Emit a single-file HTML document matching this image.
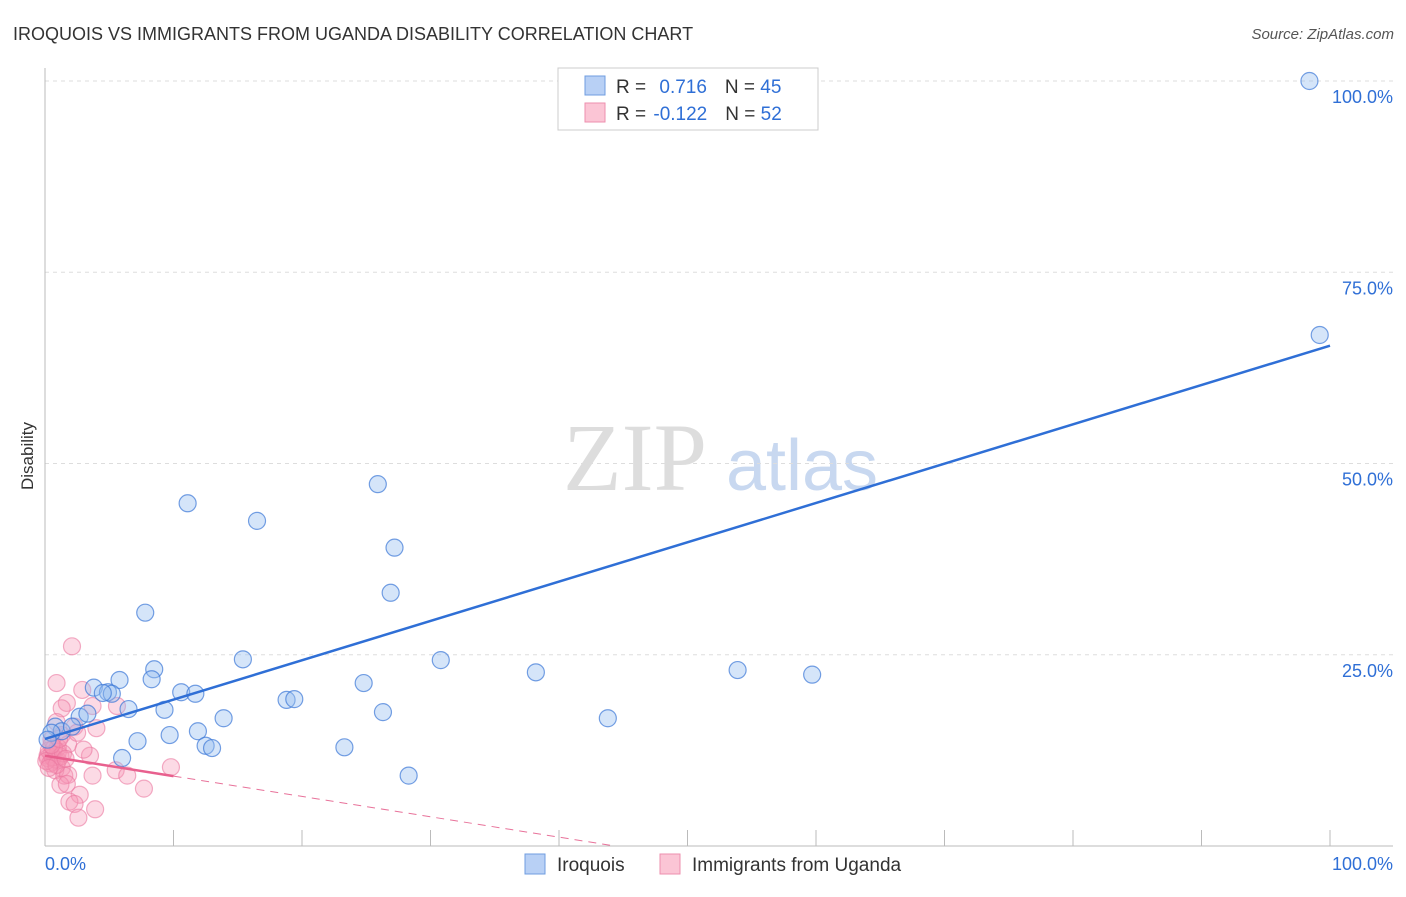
<!DOCTYPE html>
<html><head><meta charset="utf-8"><style>
body{margin:0;background:#fff;font-family:"Liberation Sans",sans-serif}
</style></head><body>
<svg id="chart" width="1406" height="892" xmlns="http://www.w3.org/2000/svg" font-family="Liberation Sans, sans-serif">
<text x="13" y="40" font-size="18" fill="#333">IROQUOIS VS IMMIGRANTS FROM UGANDA DISABILITY CORRELATION CHART</text>
<text x="1394" y="39" font-size="15" fill="#555" text-anchor="end" font-style="italic">Source: ZipAtlas.com</text>
<text transform="translate(33,456) rotate(-90)" font-size="17" fill="#333" text-anchor="middle">Disability</text>
<g>
<text x="635" y="490" font-size="96" fill="#ddd" font-family="Liberation Serif, serif" text-anchor="middle">ZIP</text>
<text x="802" y="490" font-size="72" fill="#c8d8f0" text-anchor="middle">atlas</text>
</g>
<g id="grid"></g><g id="axes"></g><g id="pts"></g><g id="lines"></g>
<g>
<rect x="558" y="68" width="260" height="62" fill="#fff" stroke="#ccc"/>
<rect x="585" y="76" width="20" height="19" fill="#b8d0f5" stroke="#6f9de0"/>
<rect x="585" y="103" width="20" height="19" fill="#fbc5d5" stroke="#ee8fae"/>
<text x="616" y="93" font-size="19" fill="#333">R = <tspan fill="#2f6fd6" dx="8">0.716</tspan><tspan dx="18" fill="#333">N = </tspan><tspan fill="#2f6fd6">45</tspan></text>
<text x="616" y="120" font-size="19" fill="#333">R = <tspan fill="#2f6fd6" dx="2">-0.122</tspan><tspan dx="18" fill="#333">N = </tspan><tspan fill="#2f6fd6">52</tspan></text>
</g>
<g>
<rect x="525" y="854" width="20" height="20" fill="#b8d0f5" stroke="#6f9de0"/>
<text x="557" y="871" font-size="19" fill="#333">Iroquois</text>
<rect x="660" y="854" width="20" height="20" fill="#fbc5d5" stroke="#ee8fae"/>
<text x="692" y="871" font-size="19" fill="#333">Immigrants from Uganda</text>
</g>
</svg>
<script>
const blueX=[98.4,99.2,11.1,16.5,25.9,27.2,26.9,7.8,8.5,8.3,15.4,5.8,3.8,4.9,5.2,10.6,11.7,6.5,9.3,13.9,18.8,19.4,24.8,26.3,30.8,38.2,43.8,53.9,59.7,11.9,9.7,12.5,13.0,7.2,6.0,23.3,28.3,2.7,3.3,0.8,1.3,2.1,0.5,4.5,0.2];
const blueY=[100,66.8,44.8,42.5,47.3,39.0,33.1,30.5,23.1,21.8,24.4,21.7,20.7,20.1,19.9,20.1,19.9,17.9,17.8,16.7,19.1,19.2,21.3,17.5,24.3,22.7,16.7,23.0,22.4,15.0,14.5,13.1,12.8,13.7,11.5,12.9,9.2,16.9,17.3,15.6,15.0,15.6,14.8,20.0,13.9];
const pinkX=[2.1,0.9,2.9,1.7,1.3,3.7,5.6,0.9,2.3,1.3,0.5,1.0,1.8,3.5,0.2,0.5,1.0,1.3,0.8,1.5,1.8,3.7,5.5,6.4,9.8,1.2,1.7,2.7,7.7,1.9,2.3,2.6,3.9,0.2,0.5,0.8,0.4,1.0,0.6,0.3,1.2,0.1,0.7,1.4,0.9,0.5,1.6,0.3,2.5,4.0,1.1,3.0];
const pinkY=[26.1,21.3,20.4,18.7,18.0,18.3,18.3,16.2,15.6,14.5,13.9,12.9,13.3,11.8,11.8,11.0,11.2,10.2,9.9,9.2,9.3,9.2,9.9,9.2,10.3,8.0,8.1,6.7,7.5,5.8,5.5,3.7,4.8,11.5,12.0,11.3,10.8,12.3,11.6,12.5,11.7,11.1,12.8,12.1,10.6,13.2,11.4,10.2,14.8,15.4,14.0,12.6];
const blueTrend=[14.0,65.4]; // y at x=0, x=100
const pinkTrend=[11.8,-0.266]; // intercept, slope
const pinkSolidEnd=10;
const xTicks=[0,10,20,30,40,50,60,70,80,90,100];
const yTicks=[25,50,75,100];
const yTickLabels=["25.0%","50.0%","75.0%","100.0%"];
const X=v=>45+v*12.85, Y=v=>846-v*7.65;
const NS="http://www.w3.org/2000/svg";
function mk(p,t,a){const e=document.createElementNS(NS,t);for(const k in a)e.setAttribute(k,a[k]);p.appendChild(e);return e;}
const grid=document.getElementById('grid'),axes=document.getElementById('axes'),pts=document.getElementById('pts'),lines=document.getElementById('lines');
yTicks.forEach((t,i)=>{
 const l=mk(grid,'line',{x1:45,x2:1393,y1:Y(t),y2:Y(t),stroke:'#ddd','stroke-dasharray':'4,4'});
 
 
 const tx=mk(axes,'text',{x:1393,y:Y(t)+22,'font-size':18,fill:'#2f6fd6','text-anchor':'end'});
 tx.textContent=yTickLabels[i];
 
 
});
const ya=mk(axes,'line',{x1:45,x2:45,y1:68,y2:846,stroke:'#bbb'});


const xa=mk(axes,'line',{x1:45,x2:1393,y1:846,y2:846,stroke:'#bbb'});


xTicks.forEach(t=>{
 const l=mk(axes,'line',{x1:X(t),x2:X(t),y1:830,y2:846,stroke:'#bbb'});
 
 
});
const xl0=mk(axes,'text',{x:45,y:870,'font-size':18,fill:'#2f6fd6'});xl0.textContent='0.0%';


const xl1=mk(axes,'text',{x:1393,y:870,'font-size':18,fill:'#2f6fd6','text-anchor':'end'});xl1.textContent='100.0%';


pinkX.forEach((x,i)=>{
 const c=mk(pts,'circle',{cx:X(x),cy:Y(pinkY[i]),r:8.5,fill:'rgba(246,150,180,0.35)',stroke:'rgba(235,120,160,0.6)','stroke-width':1.2});
 
 
});
blueX.forEach((x,i)=>{
 const c=mk(pts,'circle',{cx:X(x),cy:Y(blueY[i]),r:8.5,fill:'rgba(150,190,240,0.4)',stroke:'rgba(60,120,215,0.7)','stroke-width':1.2});
 
 
});
const bl=mk(lines,'line',{x1:X(0),y1:Y(blueTrend[0]),x2:X(100),y2:Y(blueTrend[1]),stroke:'#2f6fd6','stroke-width':2.5});


const pz=-pinkTrend[0]/pinkTrend[1];
const pd=mk(lines,'line',{x1:X(pinkSolidEnd),y1:Y(pinkTrend[0]+pinkTrend[1]*pinkSolidEnd),x2:X(pz),y2:Y(0),stroke:'#e8729a','stroke-width':1,'stroke-dasharray':'8,6'});


const ps=mk(lines,'line',{x1:X(0),y1:Y(pinkTrend[0]),x2:X(pinkSolidEnd),y2:Y(pinkTrend[0]+pinkTrend[1]*pinkSolidEnd),stroke:'#e8608e','stroke-width':2.5});


</script>
</body></html>
